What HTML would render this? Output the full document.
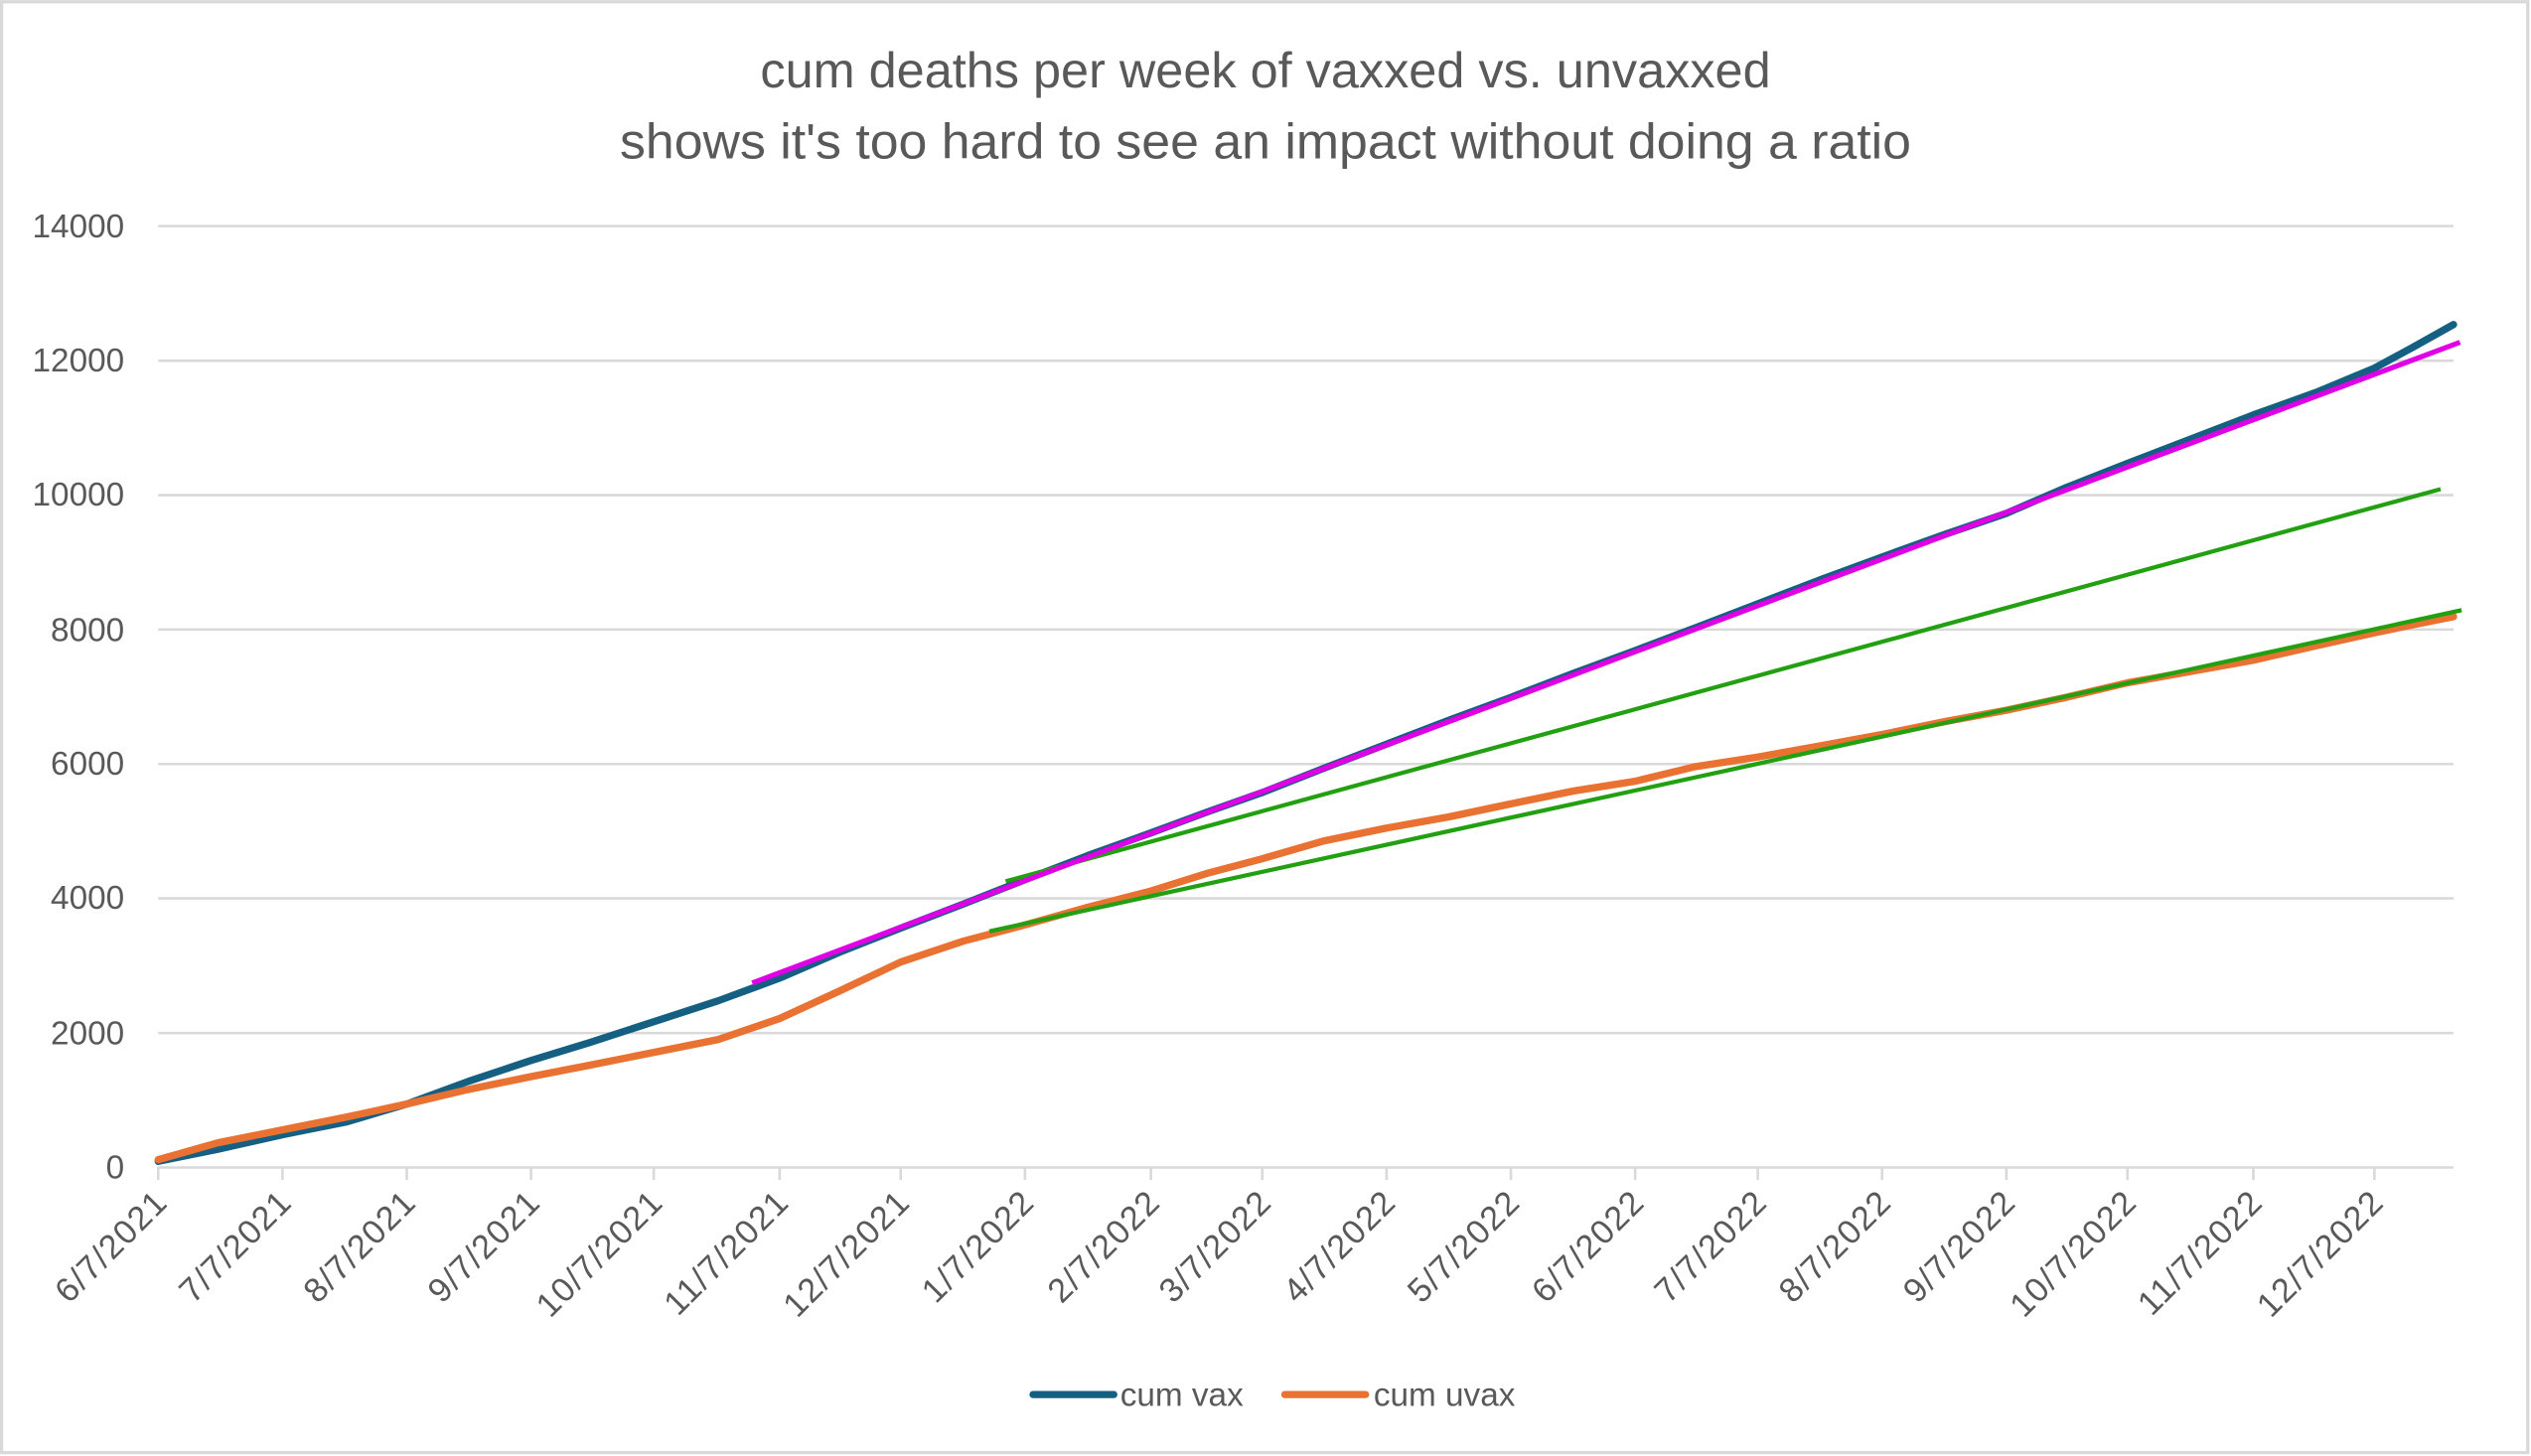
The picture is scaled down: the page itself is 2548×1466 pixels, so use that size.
<!DOCTYPE html>
<html><head><meta charset="utf-8"><style>html,body{margin:0;padding:0;background:#fff}svg{display:block}</style></head>
<body>
<svg width="2548" height="1466" viewBox="0 0 1568 902" xmlns="http://www.w3.org/2000/svg" font-family="Liberation Sans, sans-serif">
<rect x="0" y="0" width="1568" height="902" fill="#fff"/>
<rect x="1" y="1" width="1565" height="899" fill="none" stroke="#d9d9d9" stroke-width="2"/>
<text x="784" y="54" font-size="31" fill="#595959" text-anchor="middle" textLength="626" lengthAdjust="spacingAndGlyphs">cum deaths per week of vaxxed vs. unvaxxed</text>
<text x="784" y="98" font-size="31" fill="#595959" text-anchor="middle" textLength="800" lengthAdjust="spacingAndGlyphs">shows it's too hard to see an impact without doing a ratio</text>
<g stroke="#d9d9d9" stroke-width="1.6">
<line x1="98" y1="140" x2="1520" y2="140"/>
<line x1="98" y1="223.4" x2="1520" y2="223.4"/>
<line x1="98" y1="306.7" x2="1520" y2="306.7"/>
<line x1="98" y1="390" x2="1520" y2="390"/>
<line x1="98" y1="473.3" x2="1520" y2="473.3"/>
<line x1="98" y1="556.6" x2="1520" y2="556.6"/>
<line x1="98" y1="640" x2="1520" y2="640"/>
<line x1="98" y1="723.3" x2="1520" y2="723.3"/>
<g>
<line x1="98" y1="723" x2="98" y2="731"/><line x1="175" y1="723" x2="175" y2="731"/><line x1="252" y1="723" x2="252" y2="731"/><line x1="329" y1="723" x2="329" y2="731"/><line x1="405" y1="723" x2="405" y2="731"/><line x1="483" y1="723" x2="483" y2="731"/><line x1="558" y1="723" x2="558" y2="731"/><line x1="635" y1="723" x2="635" y2="731"/><line x1="713" y1="723" x2="713" y2="731"/><line x1="782" y1="723" x2="782" y2="731"/><line x1="859" y1="723" x2="859" y2="731"/><line x1="936" y1="723" x2="936" y2="731"/><line x1="1013" y1="723" x2="1013" y2="731"/><line x1="1089" y1="723" x2="1089" y2="731"/><line x1="1166" y1="723" x2="1166" y2="731"/><line x1="1243" y1="723" x2="1243" y2="731"/><line x1="1318" y1="723" x2="1318" y2="731"/><line x1="1396" y1="723" x2="1396" y2="731"/><line x1="1471" y1="723" x2="1471" y2="731"/>
</g></g>
<g font-size="20.5" fill="#595959" text-anchor="end">
<text x="77" y="147">14000</text><text x="77" y="230">12000</text><text x="77" y="313">10000</text><text x="77" y="397">8000</text><text x="77" y="480">6000</text><text x="77" y="563">4000</text><text x="77" y="647">2000</text><text x="77" y="730">0</text>
</g>
<g font-size="21" fill="#595959" text-anchor="end" letter-spacing="0.8">
<text transform="translate(105,746) rotate(-45)">6/7/2021</text>
<text transform="translate(182,746) rotate(-45)">7/7/2021</text>
<text transform="translate(259,746) rotate(-45)">8/7/2021</text>
<text transform="translate(336,746) rotate(-45)">9/7/2021</text>
<text transform="translate(412,746) rotate(-45)">10/7/2021</text>
<text transform="translate(490,746) rotate(-45)">11/7/2021</text>
<text transform="translate(565,746) rotate(-45)">12/7/2021</text>
<text transform="translate(642,746) rotate(-45)">1/7/2022</text>
<text transform="translate(720,746) rotate(-45)">2/7/2022</text>
<text transform="translate(789,746) rotate(-45)">3/7/2022</text>
<text transform="translate(866,746) rotate(-45)">4/7/2022</text>
<text transform="translate(943,746) rotate(-45)">5/7/2022</text>
<text transform="translate(1020,746) rotate(-45)">6/7/2022</text>
<text transform="translate(1096,746) rotate(-45)">7/7/2022</text>
<text transform="translate(1173,746) rotate(-45)">8/7/2022</text>
<text transform="translate(1250,746) rotate(-45)">9/7/2022</text>
<text transform="translate(1325,746) rotate(-45)">10/7/2022</text>
<text transform="translate(1403,746) rotate(-45)">11/7/2022</text>
<text transform="translate(1478,746) rotate(-45)">12/7/2022</text>
</g>
<polyline fill="none" stroke="#156082" stroke-width="4.5" stroke-linejoin="round" stroke-linecap="round" points="98,719.5 135,712 175,703 215,695 252,684 290,670 329,657 365,646 405,633 445,620 483,606 520,590 558,575 597,560 635,545 674,530 713,516 748,503 782,491 820,476 859,461 898,446 936,432 975,417 1013,403 1050,389 1089,374 1128,359 1166,345 1205,331 1243,318 1280,302 1318,287 1357,272 1396,257 1435,243 1471,228 1495,215 1520,201"/>
<polyline fill="none" stroke="#E97132" stroke-width="4.5" stroke-linejoin="round" stroke-linecap="round" points="98,718.5 135,708 175,700 215,692 252,684 290,675 329,667 365,660 405,652 445,644 483,631 520,614 558,596 597,583 635,573 674,562 713,552 748,541 782,532 820,521 859,513 898,506 936,498 975,490 1013,484 1050,475 1089,469 1128,462 1166,455 1205,447 1243,440 1280,432 1318,423 1357,416 1396,409 1435,400 1471,392 1495,387 1520,382"/>
<line x1="623" y1="546" x2="1512" y2="303" stroke="#22A012" stroke-width="2.6"/>
<line x1="613" y1="577" x2="1525" y2="378" stroke="#22A012" stroke-width="2.6"/>
<line x1="466" y1="609" x2="1524" y2="212" stroke="#E000E6" stroke-width="3.2"/>
<line x1="640" y1="864" x2="690" y2="864" stroke="#156082" stroke-width="4.5" stroke-linecap="round"/>
<text x="694" y="871" font-size="20.5" fill="#595959">cum vax</text>
<line x1="796" y1="864" x2="846" y2="864" stroke="#E97132" stroke-width="4.5" stroke-linecap="round"/>
<text x="851" y="871" font-size="20.5" fill="#595959">cum uvax</text>
</svg>
</body></html>
